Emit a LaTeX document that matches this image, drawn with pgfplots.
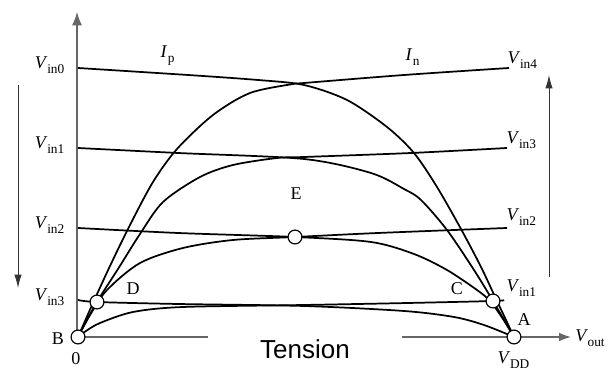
\documentclass[border=0pt]{standalone}
\usepackage{pgfplots}
\pgfplotsset{compat=1.18}
\usepackage{fontspec}
\setmainfont{Liberation Serif}
\newfontfamily\sansf{Liberation Sans}
\usetikzlibrary{arrows.meta}

% label fonts
\newcommand{\lab}{\fontsize{13.5}{15}\selectfont}
\newcommand{\Vs}[1]{\textit{V}\kern-0.3pt\raisebox{-3.5pt}{\fontsize{10}{10}\selectfont #1}}
\newcommand{\Is}[1]{\textit{I}\kern0.3pt\raisebox{-3.5pt}{\fontsize{10}{10}\selectfont #1}}

\begin{document}
\begin{tikzpicture}
\begin{axis}[
    width=456pt,
    height=280.5pt,
    scale only axis,
    xmin=-78, xmax=530,
    ymin=-37, ymax=337,
    hide axis,
    clip=false,
    every axis plot/.append style={black, line width=1.3pt, no markers},
]
\coordinate (sw) at (rel axis cs:0,0);
\coordinate (ne) at (rel axis cs:1,1);

% axes
\addplot[black!60, line width=1pt, sharp plot, -{Latex[length=10pt,width=7.5pt]}]
    coordinates {(-1,0) (-1,325)};
\addplot[black!60, line width=1pt, sharp plot, -{Latex[length=9pt,width=6.5pt]}]
    coordinates {(0,0) (493,0)};
% direction arrows
\addplot[black!80, line width=0.7pt, sharp plot, -{Latex[length=10pt,width=5.5pt]}]
    coordinates {(-60,252) (-60,49)};
\addplot[black!80, line width=0.7pt, sharp plot, -{Latex[length=10pt,width=5.5pt]}]
    coordinates {(471,60) (471,262)};

% I_p curves (Vin0 .. Vin3)
\addplot[smooth] coordinates {
    (0,269) (110,262) (180,257) (226,252) (269,237) (309,210) (336,184)
    (359,150) (383,108) (403,70) (419,36) (436,0)};
\addplot[smooth] coordinates {
    (0,189) (100,184) (226,178) (293,164) (326,148) (343,137) (369,107)
    (396,67) (415,36) (436,0)};
\addplot[smooth] coordinates {
    (0,109) (100,104) (217,100) (293,95) (336,83) (369,67) (399,47)
    (412,36) (425,18) (436,0)};
\addplot[smooth] coordinates {
    (0,37) (19,35) (100,33) (226,31) (326,26) (376,20) (406,12) (436,0)};

% I_n curves (Vin1 .. Vin4)
\addplot[smooth] coordinates {
    (0,0) (8,6) (22,14) (55,25) (105,30) (226,32) (330,34) (415,36) (426,37)};
\addplot[smooth] coordinates {
    (0,0) (12,22) (29,47) (62,74) (105,89) (155,97) (217,100) (300,104) (429,109)};
\addplot[smooth] coordinates {
    (0,0) (10,19) (22,40) (40,68) (62,103) (85,135) (122,160) (155,172)
    (199,179) (226,180) (333,184) (429,189)};
\addplot[smooth] coordinates {
    (0,0) (15,34) (32,71) (52,112) (75,155) (99,188) (135,222) (172,244)
    (215,253) (226,254) (326,262) (431,269)};

% operating points B, D, E, C, A
\addplot[only marks, mark=*, mark size=5.2pt,
    mark options={fill=white, draw=black, line width=0.9pt}]
    coordinates {(0,0) (19,35) (217,100) (415,36) (436,0)};

% x label over the axis line
\node[fill=white, anchor=north west, minimum width=145.5pt,
    minimum height=40pt, inner sep=0pt] at (axis cs:130,2) {};
\node[anchor=base, font=\sansf\fontsize{19.5}{22}\selectfont]
    at (axis cs:227,-22) {Tension};

% left labels
\node[anchor=base east, font=\lab] at (axis cs:-9,268) {\Vs{in0}};
\node[anchor=base east, font=\lab] at (axis cs:-9,188) {\Vs{in1}};
\node[anchor=base east, font=\lab] at (axis cs:-9,108) {\Vs{in2}};
\node[anchor=base east, font=\lab] at (axis cs:-9,36) {\Vs{in3}};
% right labels
\node[anchor=base west, font=\lab] at (axis cs:425,273) {\Vs{in4}};
\node[anchor=base west, font=\lab] at (axis cs:424,193) {\Vs{in3}};
\node[anchor=base west, font=\lab] at (axis cs:424,116) {\Vs{in2}};
\node[anchor=base west, font=\lab] at (axis cs:424,45) {\Vs{in1}};

\node[anchor=base west, font=\lab] at (axis cs:78,279) {\Is{p}};
\node[anchor=base west, font=\lab] at (axis cs:323,276) {\Is{n}};

\node[anchor=base, font=\lab] at (axis cs:218,137) {E};
\node[anchor=base, font=\lab] at (axis cs:55,42) {D};
\node[anchor=base, font=\lab] at (axis cs:379,42) {C};
\node[anchor=base, font=\lab] at (axis cs:446,11) {A};
\node[anchor=base, font=\lab] at (axis cs:-20,-8) {B};
\node[anchor=base, font=\lab] at (axis cs:-2,-28) {0};
\node[anchor=base west, font=\lab] at (axis cs:415,-27) {\Vs{DD}};
\node[anchor=base west, font=\lab, inner sep=0pt] at (axis cs:497,-5) {\Vs{out}};
\end{axis}
\pgfresetboundingbox
\useasboundingbox (sw) rectangle (ne);
\end{tikzpicture}
\end{document}
